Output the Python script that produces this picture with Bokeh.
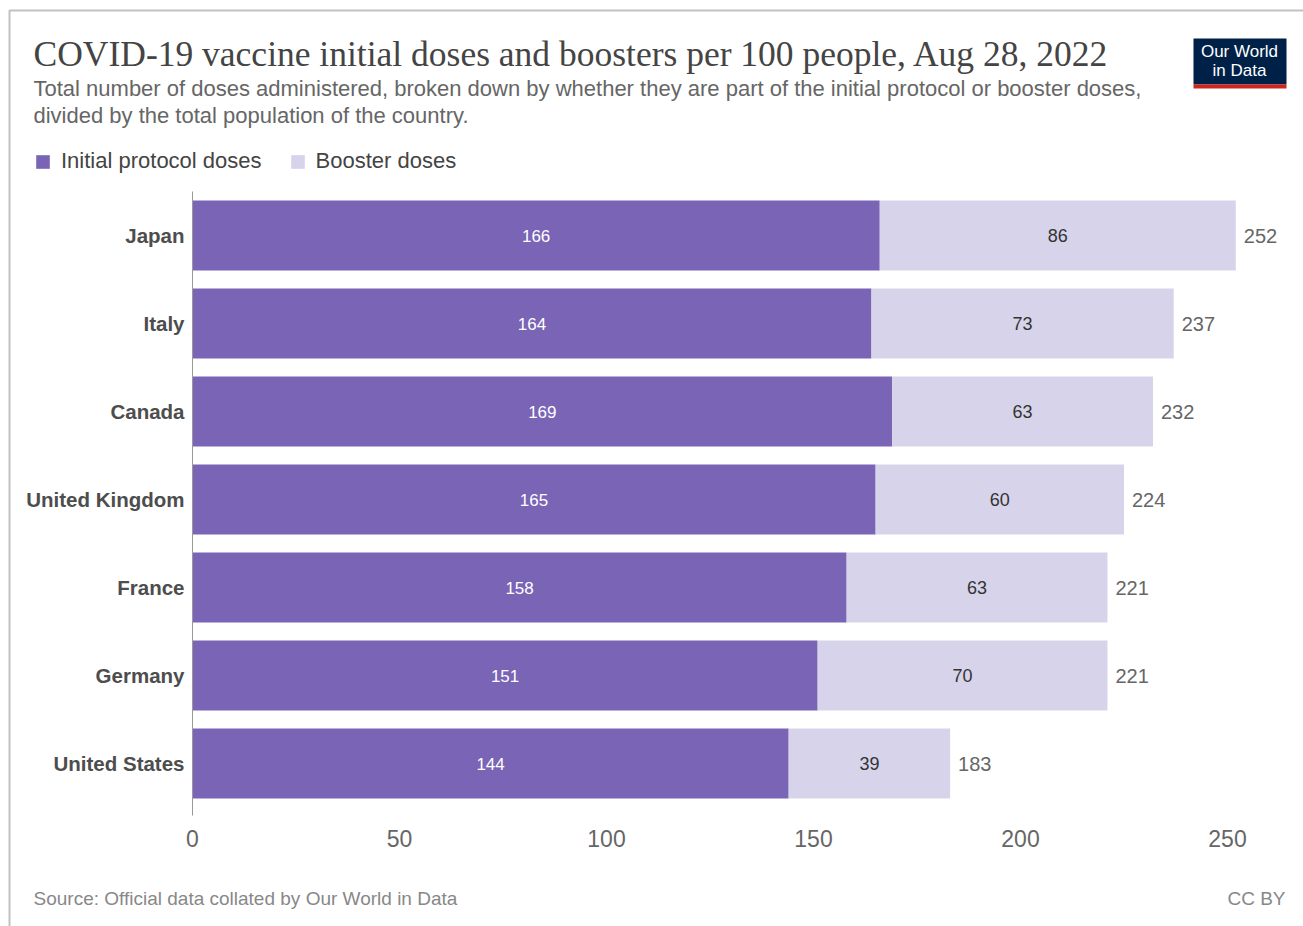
from bokeh.plotting import figure
from bokeh.models import (ColumnDataSource, Range1d, FixedTicker, Label,
                          BoxAnnotation, Legend, LegendItem, LabelSet)
from bokeh.core.properties import value
from bokeh.embed import file_html
from bokeh.resources import INLINE

countries = ["Japan", "Italy", "Canada", "United Kingdom", "France", "Germany", "United States"]
initial = [166, 164, 169, 165, 158, 151, 144]
booster = [86, 73, 63, 60, 63, 70, 39]
totals = [252, 237, 232, 224, 221, 221, 183]
tick_values = [0, 50, 100, 150, 200, 250]

title = "COVID-19 vaccine initial doses and boosters per 100 people, Aug 28, 2022"
subtitle1 = "Total number of doses administered, broken down by whether they are part of the initial protocol or booster doses,"
subtitle2 = "divided by the total population of the country."
source_note = "Source: Official data collated by Our World in Data"
license_note = "CC BY"
series_names = ["Initial protocol doses", "Booster doses"]

C_INIT = "#7A64B5"
C_BOOST = "#D6D3EA"
SANS = "Liberation Sans"

W, H = 1303, 926
X0_PX = 192          # canvas x of value 0
PX_PER_UNIT = 4.14
ROW_PX = 88
TOP_ROW_CENTER = 235

n = len(countries)
# row index: first country at the top
ypos = [n - 1 - i for i in range(n)]
bottom_center = TOP_ROW_CENTER + ROW_PX * (n - 1)

src = ColumnDataSource(dict(
    y=ypos,
    initial=initial,
    booster=booster,
    stack=[a + b for a, b in zip(initial, booster)],
    mid_init=[a / 2 for a in initial],
    mid_boost=[a + b / 2 for a, b in zip(initial, booster)],
    init_lbl=[str(v) for v in initial],
    boost_lbl=[str(v) for v in booster],
    total_lbl=[str(v) for v in totals],
    zero=[0] * n,
))

x_range = Range1d(-X0_PX / PX_PER_UNIT, (W - X0_PX) / PX_PER_UNIT)
y_range = Range1d((bottom_center - H) / ROW_PX, bottom_center / ROW_PX)

p = figure(width=W, height=H, output_backend="svg", toolbar_location=None,
           x_range=x_range, y_range=y_range,
           min_border=0, min_border_left=0, min_border_right=0,
           min_border_top=0, min_border_bottom=0)
p.outline_line_color = None
p.background_fill_color = "white"
p.border_fill_color = "white"
p.xgrid.grid_line_color = None
p.ygrid.grid_line_color = None

BAR_H = 70 / ROW_PX
r1 = p.hbar(y="y", left="zero", right="initial", height=BAR_H, source=src,
            fill_color=C_INIT, line_color=None)
r2 = p.hbar(y="y", left="initial", right="stack", height=BAR_H, source=src,
            fill_color=C_BOOST, line_color=None)

p.add_layout(LabelSet(x="mid_init", y="y", text="init_lbl", source=src,
                      text_align="center", text_baseline="middle", text_color="white",
                      text_font=value(SANS), text_font_size="17px"))
p.add_layout(LabelSet(x="mid_boost", y="y", text="boost_lbl", source=src,
                      text_align="center", text_baseline="middle", text_color="#333333",
                      text_font=value(SANS), text_font_size="18px"))
p.add_layout(LabelSet(x="stack", y="y", text="total_lbl", source=src, x_offset=8,
                      text_align="left", text_baseline="middle", text_color="#666666",
                      text_font=value(SANS), text_font_size="20px"))

axis_bottom = -0.59
# axes placed at fixed data locations inside the full-canvas frame
p.xaxis.fixed_location = axis_bottom
p.xaxis.ticker = FixedTicker(ticks=tick_values)
p.xaxis.axis_line_color = None
p.xaxis.major_tick_line_color = None
p.xaxis.minor_tick_line_color = None
p.xaxis.major_tick_out = 0
p.xaxis.major_tick_in = 0
p.xaxis.major_label_text_font = SANS
p.xaxis.major_label_text_font_size = "23px"
p.xaxis.major_label_text_color = "#666666"
p.xaxis.major_label_standoff = 15

p.yaxis.fixed_location = 0
p.yaxis.ticker = FixedTicker(ticks=ypos)
p.yaxis.major_label_overrides = {yy: c for yy, c in zip(ypos, countries)}
p.yaxis.bounds = (axis_bottom, n - 1 + 0.5)
p.yaxis.axis_line_color = "#999999"
p.yaxis.major_tick_line_color = None
p.yaxis.minor_tick_line_color = None
p.yaxis.major_tick_out = 0
p.yaxis.major_tick_in = 0
p.yaxis.major_label_text_font = SANS
p.yaxis.major_label_text_font_style = "bold"
p.yaxis.major_label_text_font_size = "20.5px"
p.yaxis.major_label_text_color = "#4d4d4d"
p.yaxis.major_label_standoff = 8


def sx(x):
    return x


def sy(y):
    return H - y


def label(x, y, text, size, color, font=SANS, align="left", baseline="middle", style="normal"):
    p.add_layout(Label(x=sx(x), y=sy(y), x_units="screen", y_units="screen", text=text,
                       text_font=font, text_font_size=size, text_color=color,
                       text_align=align, text_baseline=baseline, text_font_style=style))


# titles
label(33, 53, title, "35.5px", "#444444", font="Liberation Serif")
label(33, 88, subtitle1, "22px", "#666666")
label(33, 115, subtitle2, "22px", "#666666")

# legend
legend = Legend(items=[LegendItem(label=series_names[0], renderers=[r1]),
                       LegendItem(label=series_names[1], renderers=[r2])],
                orientation="horizontal", location=(sx(34), sy(174)),
                padding=0, margin=0, spacing=27, glyph_width=17, glyph_height=17,
                label_standoff=10, label_text_font=SANS, label_text_font_size="22px",
                label_text_color="#444444", border_line_color=None,
                background_fill_alpha=0)
p.add_layout(legend, "center")

# footer
label(33, 898, source_note, "19px", "#888888")
label(1285, 898, license_note, "19px", "#888888", align="right")

# logo
p.add_layout(BoxAnnotation(left=sx(1193), right=sx(1286), top=sy(38), bottom=sy(84),
                           left_units="screen", right_units="screen", top_units="screen",
                           bottom_units="screen", fill_color="#002147", fill_alpha=1,
                           line_color=None))
p.add_layout(BoxAnnotation(left=sx(1193), right=sx(1286), top=sy(84), bottom=sy(88),
                           left_units="screen", right_units="screen", top_units="screen",
                           bottom_units="screen", fill_color="#CE261E", fill_alpha=1,
                           line_color=None))
label(1239, 51, "Our World", "17px", "white", align="center")
label(1239, 70, "in Data", "17px", "white", align="center")

# outer frame lines
p.add_layout(BoxAnnotation(left=sx(9), right=sx(1330), top=sy(10), bottom=sy(960),
                           left_units="screen", right_units="screen", top_units="screen",
                           bottom_units="screen", fill_alpha=0, line_color="#333333",
                           line_width=2))

open("out.html", "w").write(file_html(p, INLINE))
